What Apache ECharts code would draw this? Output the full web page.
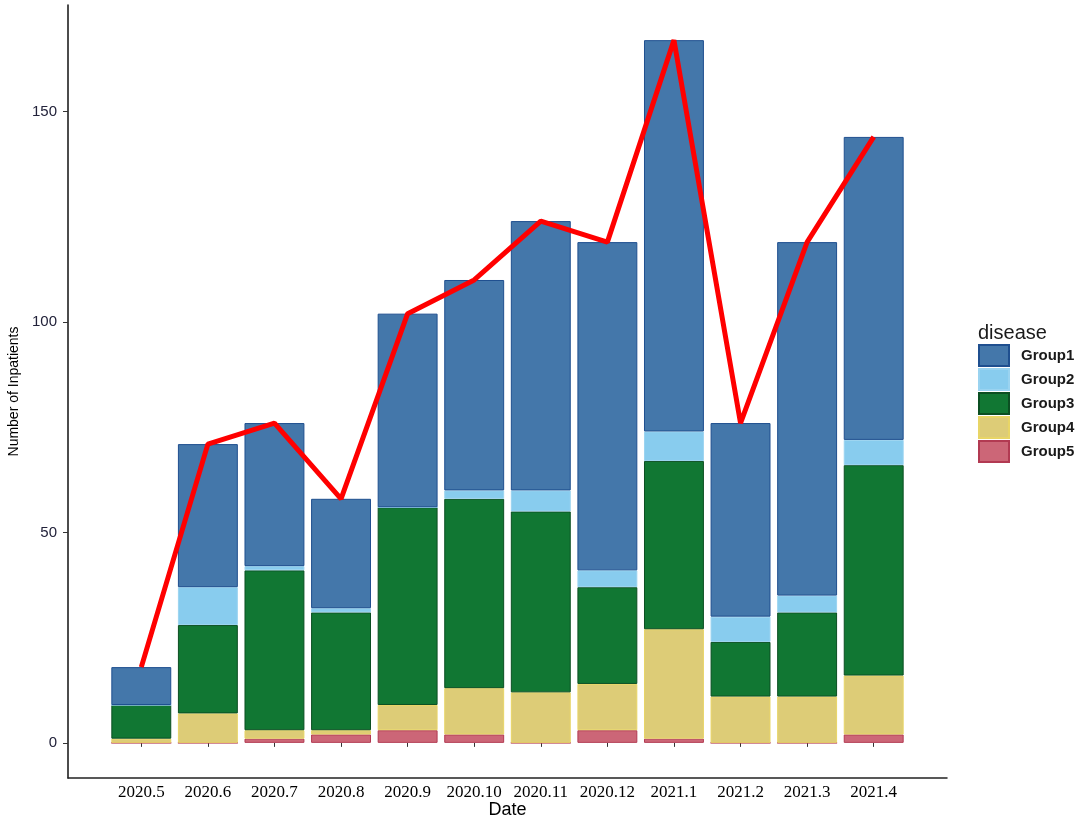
<!DOCTYPE html>
<html>
<head>
<meta charset="utf-8">
<title>Number of Inpatients by disease group</title>
<script src="https://cdn.jsdelivr.net/npm/echarts@6/dist/echarts.min.js"></script>
<style>
  html, body { margin: 0; padding: 0; background: #ffffff; }
  #chart { width: 1084px; height: 821px; }
</style>
</head>
<body>
<div id="chart"></div>
<script>
// monthly inpatients per disease group
const dates = ['2020.5', '2020.6', '2020.7', '2020.8', '2020.9', '2020.10',
               '2020.11', '2020.12', '2021.1', '2021.2', '2021.3', '2021.4']
const group1 = [9, 34, 34, 26, 46, 50, 64, 78, 93, 46, 84, 72]
const group2 = [0, 9, 1, 1, 0, 2, 5, 4, 7, 6, 4, 6]
const group3 = [8, 21, 38, 28, 47, 45, 43, 23, 40, 13, 20, 50]
const group4 = [1, 7, 2, 1, 6, 11, 12, 11, 26, 11, 11, 14]
const group5 = [0, 0, 1, 2, 3, 2, 0, 3, 1, 0, 0, 2]
const totals = [18, 71, 76, 58, 102, 110, 124, 119, 167, 76, 119, 144]
const yTicks = [0, 50, 100, 150]

const groupNames = ['Group1', 'Group2', 'Group3', 'Group4', 'Group5']

// fills with a slightly darker outline, like the ggplot bars
const COLORS = {
    Group1: { fill: '#4477AA', border: '#1f4f8f' },
    Group2: { fill: '#88CCEE', border: '#9ad3f0' },
    Group3: { fill: '#117733', border: '#0b4f22' },
    Group4: { fill: '#DDCC77', border: '#e8d566' },
    Group5: { fill: '#CC6677', border: '#b23a52' }
}

// y range of the panel (ggplot adds 5% on each side of 0..167)
const Y_MIN = -8.35
const Y_MAX = 175.35

// grid 0 holds the bars, spanning exactly the 12 category bands;
// grid 1 is the full panel and carries the visible axis lines
const PANEL = { left: 68, right: 137, top: 5, bottom: 43 }
const BARS = { left: 108, right: 177, top: 5, bottom: 43 }

function barSeries(name, values) {
    return {
        name: name,
        type: 'bar',
        stack: 'total',
        barWidth: '90%',
        xAxisIndex: 0,
        yAxisIndex: 0,
        data: values,
        itemStyle: {
            color: COLORS[name].fill,
            borderColor: COLORS[name].border,
            borderWidth: 1
        }
    }
}

const chart = echarts.init(document.getElementById('chart'))

chart.setOption({
    animation: false,
    backgroundColor: '#ffffff',
    textStyle: { fontFamily: "'Liberation Sans', Arial, sans-serif" },
    title: {
        text: 'disease',
        left: 978,
        top: 323,
        padding: 0,
        textStyle: { fontSize: 20, fontWeight: 'normal', color: '#1a1a1a' }
    },
    legend: {
        data: groupNames,
        orient: 'vertical',
        left: 978,
        top: 344,
        padding: 0,
        icon: 'rect',
        itemWidth: 30,
        itemHeight: 21,
        itemGap: 1,
        textStyle: { fontSize: 15, fontWeight: 'bold', color: '#1a1a1a', padding: [0, 0, 0, 7] }
    },
    grid: [
        Object.assign({ outerBoundsMode: 'none', containLabel: false }, BARS),
        Object.assign({ outerBoundsMode: 'none', containLabel: false }, PANEL)
    ],
    xAxis: [
        {
            type: 'category',
            gridIndex: 0,
            data: dates,
            boundaryGap: true,
            axisLine: { show: false },
            axisTick: { show: true, alignWithLabel: true, length: 4, lineStyle: { color: '#333333' } },
            axisLabel: {
                interval: 0,
                margin: 6,
                fontFamily: "'Liberation Serif', 'Times New Roman', serif",
                fontSize: 17,
                color: '#000000'
            },
            splitLine: { show: false }
        },
        {
            type: 'value',
            gridIndex: 1,
            min: 0,
            max: 1,
            name: 'Date',
            nameLocation: 'middle',
            nameGap: 23,
            nameTextStyle: { fontSize: 18, color: '#000000' },
            axisLine: { show: true, onZero: false, lineStyle: { color: '#222222', width: 1.5 } },
            axisTick: { show: false },
            axisLabel: { show: false },
            splitLine: { show: false }
        }
    ],
    yAxis: [
        {
            type: 'value',
            gridIndex: 0,
            min: Y_MIN,
            max: Y_MAX,
            show: false,
            splitLine: { show: false }
        },
        {
            type: 'value',
            gridIndex: 1,
            min: Y_MIN,
            max: Y_MAX,
            name: 'Number of Inpatients',
            nameLocation: 'middle',
            nameGap: 43,
            nameTextStyle: { fontSize: 14, color: '#000000' },
            axisLine: { show: true, onZero: false, lineStyle: { color: '#111111', width: 1.5 } },
            axisTick: { show: true, length: 5, customValues: yTicks, lineStyle: { color: '#333333' } },
            axisLabel: {
                customValues: yTicks,
                margin: 11,
                fontSize: 15,
                color: '#22223a'
            },
            splitLine: { show: false }
        }
    ],
    series: [
        barSeries('Group5', group5),
        barSeries('Group4', group4),
        barSeries('Group3', group3),
        barSeries('Group2', group2),
        barSeries('Group1', group1),
        {
            name: 'Total',
            type: 'line',
            xAxisIndex: 0,
            yAxisIndex: 0,
            data: totals,
            showSymbol: false,
            z: 10,
            lineStyle: { color: '#ff0000', width: 5 },
            itemStyle: { color: '#ff0000' }
        }
    ]
})
</script>
</body>
</html>
